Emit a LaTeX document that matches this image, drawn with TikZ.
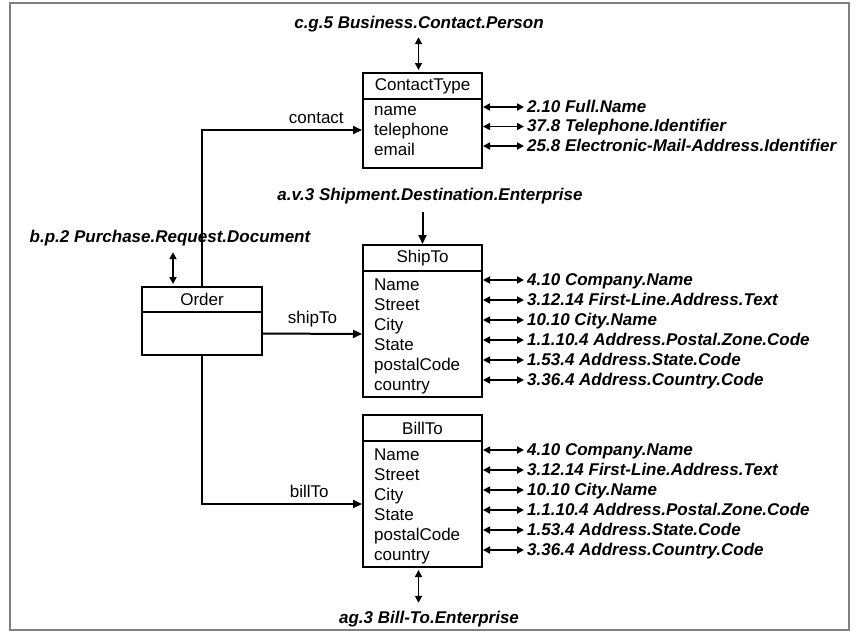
\documentclass[tikz,border=0pt]{standalone}
\usepackage{fontspec}
\setmainfont{Liberation Sans}
\usetikzlibrary{positioning,arrows.meta}

\tikzset{
  hdr/.style={draw, line width=2pt, minimum width=119pt, minimum height=26pt, inner sep=0pt, outer sep=0pt},
  bd/.style={draw, line width=2pt, minimum width=119pt, inner sep=0pt, outer sep=0pt},
  row/.style={anchor=base west, inner sep=0pt},
  dict/.style={anchor=base west, inner sep=3pt, text height=11pt, text depth=1pt, font=\fontsize{17}{20}\selectfont\bfseries\itshape},
  top/.style={anchor=base, inner sep=3pt, text height=11pt, text depth=1pt, font=\fontsize{17}{20}\selectfont\bfseries\itshape},
  link/.style={line width=2pt, shorten >=1pt, -{Triangle[length=9pt,width=8pt]}},
  dbl/.style={line width=1.7pt, {Triangle[length=7pt,width=7pt]}-{Triangle[length=7pt,width=7pt]}}
}

\begin{document}
\begin{tikzpicture}[x=1pt, y=-1pt, font=\fontsize{17}{20}\selectfont]
  \useasboundingbox (0,0) rectangle (858,633);
  \draw[gray, line width=1.4pt] (10,3) rectangle (849,630);

  \node[hdr] (ct-hd) at (422.5, 86) {ContactType};
  \node[bd, minimum height=69pt, below=0pt of ct-hd] (ct-bd) {};
  \foreach \f [count=\i] in {name,telephone,email}
    \node[row] (ct-r\i) at (374, 95+20*\i) {\f};
  \foreach \t [count=\i] in {2.10 Full.Name, 37.8 Telephone.Identifier, 25.8 Electronic-Mail-Address.Identifier} {
    \node[dict] (ct-l\i) at (524, 92.5+19.5*\i) {\t};
    \draw[dbl, shorten <=1pt] (ct-bd.east |- ct-l\i.west) -- (ct-l\i.west);
  }

  \foreach \b/\dy/\ttl in {ship/0/ShipTo, bill/170/BillTo} {
    \node[hdr] (\b-hd) at (422.5, 258+\dy) {\ttl};
    \node[bd, minimum height=126pt, below=0pt of \b-hd] (\b-bd) {};
    \foreach \f [count=\i] in {Name,Street,City,State,postalCode,country}
      \node[row] (\b-r\i) at (374, 270+20*\i+\dy) {\f};
    \foreach \t [count=\i] in {4.10 Company.Name, 3.12.14 First-Line.Address.Text, 10.10 City.Name, 1.1.10.4 Address.Postal.Zone.Code, 1.53.4 Address.State.Code, 3.36.4 Address.Country.Code} {
      \node[dict] (\b-l\i) at (524, 265+20*\i+\dy) {\t};
      \draw[dbl, shorten <=1pt] (\b-bd.east |- \b-l\i.west) -- (\b-l\i.west);
    }
  }

  \node[hdr, minimum width=120pt, minimum height=25pt] (order-hd) at (202, 299.5) {Order};
  \node[bd, minimum width=120pt, minimum height=43pt, below=0pt of order-hd] (order-bd) {};

  \node[top] (cg) at (419, 28) {c.g.5 Business.Contact.Person};
  \node[top] (av) at (430, 200) {a.v.3 Shipment.Destination.Enterprise};
  \node[top] (bp) at (170, 242) {b.p.2 Purchase.Request.Document};
  \node[top] (ag) at (429, 623) {ag.3 Bill-To.Enterprise};

  \draw[dbl, shorten <=5pt, shorten >=3pt] ([xshift=-4pt]ct-hd.north |- cg.south) -- ([xshift=-4pt]ct-hd.north);
  \draw[link, shorten <=8pt] (ship-hd.north |- av.south) -- (ship-hd.north);
  \draw[dbl, shorten <=6pt, shorten >=3pt] ([xshift=-29pt]order-hd.north |- bp.south) -- ([xshift=-29pt]order-hd.north);
  \draw[dbl, shorten <=3pt, shorten >=6pt] ([xshift=-4pt]bill-bd.south) -- ([xshift=-4pt]bill-bd.south |- ag.north);

  \draw[link] (order-hd.north) |- ([yshift=3.5pt]ct-bd.west) node[pos=0.855, above=2pt] (lc) {contact};
  \draw[link] (order-bd.east) -- (ship-bd.west) node[midway, above=2pt] (ls) {shipTo};
  \draw[link] (order-bd.south) |- (bill-bd.west) node[pos=0.833, above=2pt] (lb) {billTo};
\end{tikzpicture}
\end{document}
